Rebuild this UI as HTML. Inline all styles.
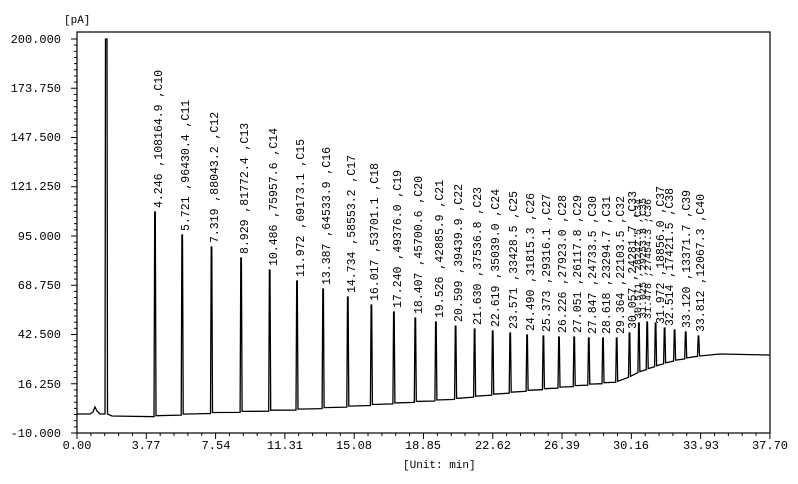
<!DOCTYPE html>
<html><head><meta charset="utf-8"><style>
html,body{margin:0;padding:0;background:#fff;}
svg{display:block;}
text{font-family:"Liberation Mono",monospace;fill:#000;}
</style></head><body>
<svg id="s" width="798" height="484" viewBox="0 0 798 484" xmlns="http://www.w3.org/2000/svg">
<rect x="0" y="0" width="798" height="484" fill="#fff"/>
<rect x="77" y="32" width="693" height="401" fill="none" stroke="#000" stroke-width="1.2"/>
<text x="64" y="23" font-size="11">[pA]</text>
<g font-size="12" text-anchor="end">
<text x="61" y="43">200.000</text>
<text x="61" y="92">173.750</text>
<text x="61" y="141">147.500</text>
<text x="61" y="190">121.250</text>
<text x="61" y="240">95.000</text>
<text x="61" y="289">68.750</text>
<text x="61" y="338">42.500</text>
<text x="61" y="388">16.250</text>
<text x="61" y="437">-10.000</text>
</g>
<g font-size="12" text-anchor="middle">
<text x="77" y="449">0.00</text>
<text x="146" y="449">3.77</text>
<text x="216" y="449">7.54</text>
<text x="285" y="449">11.31</text>
<text x="354" y="449">15.08</text>
<text x="423" y="449">18.85</text>
<text x="493" y="449">22.62</text>
<text x="562" y="449">26.39</text>
<text x="631" y="449">30.16</text>
<text x="701" y="449">33.93</text>
<text x="770" y="449">37.70</text>
</g>
<text x="403" y="468" font-size="11">[Unit: min]</text>
<g id="ticks" stroke="#000" stroke-width="1"></g>
<path id="trace" fill="none" stroke="#000" stroke-width="1.3" d=""/>
<g font-size="11.5">
<text transform="translate(162,208) rotate(-90)">4.246 ,108164.9 ,C10</text>
<text transform="translate(189,231) rotate(-90)">5.721 ,96430.4 ,C11</text>
<text transform="translate(218,243) rotate(-90)">7.319 ,88043.2 ,C12</text>
<text transform="translate(248,254) rotate(-90)">8.929 ,81772.4 ,C13</text>
<text transform="translate(277,266) rotate(-90)">10.486 ,75957.6 ,C14</text>
<text transform="translate(304,277) rotate(-90)">11.972 ,69173.1 ,C15</text>
<text transform="translate(330,285) rotate(-90)">13.387 ,64533.9 ,C16</text>
<text transform="translate(355,293) rotate(-90)">14.734 ,58553.2 ,C17</text>
<text transform="translate(378,301) rotate(-90)">16.017 ,53701.1 ,C18</text>
<text transform="translate(401,308) rotate(-90)">17.240 ,49376.0 ,C19</text>
<text transform="translate(422,314) rotate(-90)">18.407 ,45700.6 ,C20</text>
<text transform="translate(443,318) rotate(-90)">19.526 ,42885.9 ,C21</text>
<text transform="translate(462,322) rotate(-90)">20.599 ,39439.9 ,C22</text>
<text transform="translate(481,325) rotate(-90)">21.630 ,37536.8 ,C23</text>
<text transform="translate(499,327) rotate(-90)">22.619 ,35039.0 ,C24</text>
<text transform="translate(517,329) rotate(-90)">23.571 ,33428.5 ,C25</text>
<text transform="translate(534,331) rotate(-90)">24.490 ,31815.3 ,C26</text>
<text transform="translate(550,332) rotate(-90)">25.373 ,29316.1 ,C27</text>
<text transform="translate(566,333) rotate(-90)">26.226 ,27923.0 ,C28</text>
<text transform="translate(581,333) rotate(-90)">27.051 ,26117.8 ,C29</text>
<text transform="translate(596,334) rotate(-90)">27.847 ,24733.5 ,C30</text>
<text transform="translate(610,334) rotate(-90)">28.618 ,23294.7 ,C31</text>
<text transform="translate(624,334) rotate(-90)">29.364 ,22103.5 ,C32</text>
<text transform="translate(636,329) rotate(-90)">30.057 ,24281.7 ,C33</text>
<text transform="translate(641,319) rotate(-90)" font-size="10">30.571 ,28242.5 ,C34</text>
<text transform="translate(646,318) rotate(-90)" font-size="10">31.025 ,29253.8 ,C35</text>
<text transform="translate(651,319) rotate(-90)" font-size="10">31.478 ,27454.3 ,C36</text>
<text transform="translate(664,324) rotate(-90)">31.972 ,18856.0 ,C37</text>
<text transform="translate(673,326) rotate(-90)">32.514 ,17421.5 ,C38</text>
<text transform="translate(690,328) rotate(-90)">33.120 ,13371.7 ,C39</text>
<text transform="translate(704,332) rotate(-90)">33.812 ,12067.3 ,C40</text>
</g>
</svg>
<script>
(function(){
var ns="http://www.w3.org/2000/svg",g=document.getElementById("ticks");
function L(x1,y1,x2,y2){var l=document.createElementNS(ns,"line");l.setAttribute("x1",x1);l.setAttribute("y1",y1);l.setAttribute("x2",x2);l.setAttribute("y2",y2);g.appendChild(l);}
var yTop=39,yBot=433,step=(yBot-yTop)/8;
for(var i=0;i<=8;i++){var y=yTop+i*step;L(71,y,77,y);if(i<8){for(var j=1;j<8;j++){var yy=y+j*step/8;L(74,yy,77,yy);}}}
var xs=18.38*3.77;
for(var i=0;i<=10;i++){var x=77+i*xs;L(x,433,x,439);if(i<10){for(var j=1;j<5;j++){var xx=x+j*xs/5;L(xx,433,xx,436);}}}
var bp=[[77,414],[104,414],[112,416],[150,417],[200,414],[300,410],[350,407],[450,400],[530,391],[620,382],[640,372],[670,362],[700,356],[720,354],[770,355]];
function base(x){for(var i=0;i<bp.length-1;i++){if(x>=bp[i][0]&&x<=bp[i+1][0]){var t=(x-bp[i][0])/(bp[i+1][0]-bp[i][0]);return bp[i][1]+t*(bp[i+1][1]-bp[i][1]);}}return bp[bp.length-1][1];}
var pk=[[155,212],[182.2,235],[211.5,247],[241.1,258],[269.7,270],[297,281],[323.1,289],[347.8,297],[371.4,305],[393.9,312],[415.3,318],[435.9,322],[455.6,326],[474.6,329],[492.7,331],[510.2,333],[527.1,335],[543.4,336],[559,337],[574.2,337],[588.8,338],[603,338],[616.7,338],[629.5,333],[638.9,323],[647.2,322],[655.6,323],[664.6,328],[674.6,330],[685.7,332],[698.5,336]];
var d="M77,414 L90,414 L93,412 L95,407 L97,411 L100,414 L105,414 L105.5,39 L107,39 L107.5,414 L112,416";
for(var i=0;i<pk.length;i++){var x=pk[i][0],b=base(x);d+=" L"+(x-1).toFixed(1)+","+b.toFixed(1)+" L"+(x-0.3).toFixed(1)+","+pk[i][1]+" L"+(x+0.3).toFixed(1)+","+pk[i][1]+" L"+(x+1).toFixed(1)+","+(b-1).toFixed(1);}
d+=" L700,356 L720,354 L770,355";
document.getElementById("trace").setAttribute("d",d);
})();
</script>
</body></html>
